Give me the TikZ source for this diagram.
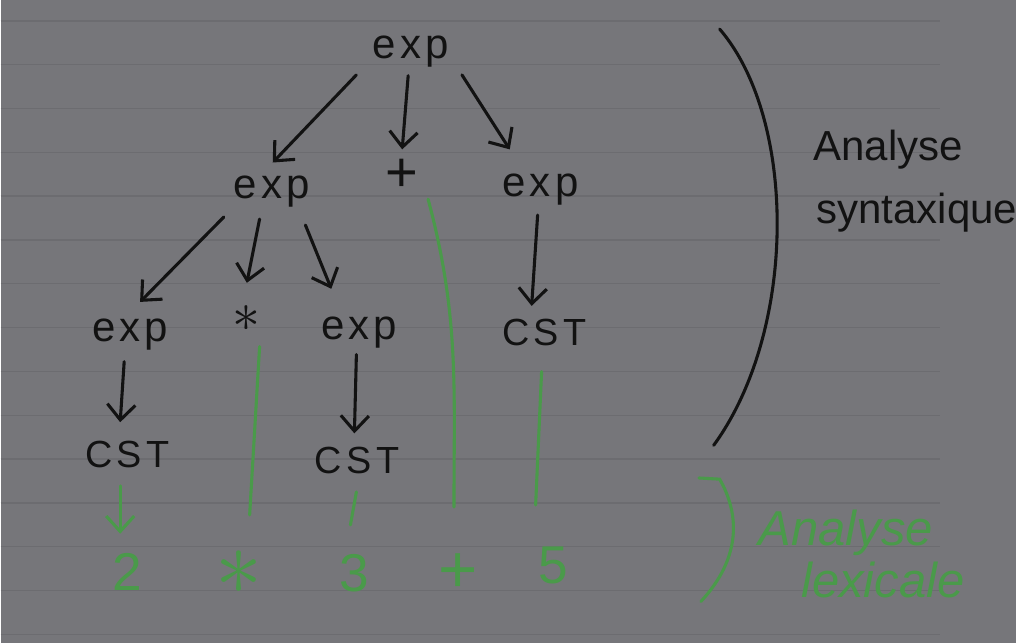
\documentclass[tikz,border=0pt]{standalone}
\usepackage{fontspec}
\setmainfont{Liberation Sans}
\usetikzlibrary{positioning,arrows.meta}

\definecolor{paper}{RGB}{118,118,122}
\definecolor{lined}{RGB}{108,108,112}
\definecolor{ink}{RGB}{18,18,18}
\definecolor{chalk}{RGB}{74,154,74}

\begin{document}
\begin{tikzpicture}[
    >={Straight Barb[length=11pt,width=20pt]},
    every node/.style={font=\fontsize{30}{32}\selectfont, text=ink, inner sep=2pt},
    expr/.style={font=\fontsize{30}{32}\selectfont\addfontfeatures{LetterSpace=10}},
    cst/.style={font=\fontsize{27}{29}\selectfont\addfontfeatures{LetterSpace=12}},
    tok/.style={font=\fontsize{38}{40}\selectfont, text=chalk},
    syn/.style={draw=ink, line width=2.2pt, line cap=round, ->},
    lex/.style={draw=chalk, line width=2.2pt, line cap=round}
]

% paper
\fill[paper] (0,0) rectangle (25.5,-16.15);
\foreach \k in {0,...,14}
    \draw[lined, line width=1pt] (0,-0.525-1.1*\k) -- (23.575,-0.525-1.1*\k);

% syntax tree
\node[expr] (top) at (10.3,-1.3) {exp};

\node[expr] (e2a) at (6.8,-4.82) {exp};
\node[font=\fontsize{40}{42}\selectfont] (p2) at (10.08,-4.4) {+};
\node[expr] (e2b) at (13.55,-4.77) {exp};

\node[expr] (e3a) at (3.25,-8.4) {exp};
\node (m3) at (6.18,-8.0) {\scalebox{1.6}{$\ast$}};
\node[expr] (e3b) at (9.0,-8.35) {exp};
\node[cst] (c3) at (13.65,-8.35) {CST};

\node[cst] (c4a) at (3.18,-11.4) {CST};
\node[cst] (c4b) at (8.95,-11.55) {CST};

% tokens
\node[tok] (t2) at (3.18,-14.35) {2};
\node[tok] (tm) at (5.98,-14.38) {\scalebox{2.7}{$\ast$}};
\node[tok] (t3) at (8.88,-14.38) {3};
\node[tok, font=\fontsize{48}{50}\selectfont] (tp) at (11.48,-14.38) {+};
\node[tok] (t5) at (13.88,-14.2) {5};

\draw[syn] ([shift={(-1.37,-0.58)}]top.center) -- ([shift={(0.03,0.74)}]e2a.center);
\draw[syn] ([shift={(-0.07,-0.6)}]top.center) -- ([shift={(0,0.65)}]p2.center);
\draw[syn] ([shift={(1.28,-0.58)}]top.center) -- ([shift={(-0.77,1.02)}]e2b.center);

\draw[syn] ([shift={(-1.2,-0.63)}]e2a.center) -- ([shift={(0.25,0.82)}]e3a.center);
\draw[syn] ([shift={(-0.3,-0.68)}]e2a.center) -- ([shift={(0,0.9)}]m3.center);
\draw[syn] ([shift={(0.85,-0.83)}]e2a.center) -- ([shift={(-0.7,1.1)}]e3b.center);
\draw[syn] ([shift={(-0.07,-0.63)}]e2b.center) -- ([shift={(-0.32,0.67)}]c3.center);

\draw[syn] ([shift={(-0.15,-0.68)}]e3a.center) -- ([shift={(-0.18,0.8)}]c4a.center);
\draw[syn] ([shift={(-0.07,-0.55)}]e3b.center) -- ([shift={(-0.07,0.67)}]c4b.center);

% lexical links
\draw[lex, ->] ([shift={(-0.18,-0.8)}]c4a.center) -- ([shift={(-0.18,0.95)}]t2.center);
\draw[lex] ([shift={(0.32,-0.7)}]m3.center) -- ([shift={(0.27,1.45)}]tm.center);
\draw[lex] ([shift={(-0.02,-0.8)}]c4b.center) -- ([shift={(-0.1,1.2)}]t3.center);
\draw[lex] ([shift={(0.65,-0.6)}]p2.center) to[out=-75,in=90] ([shift={(-0.1,1.65)}]tp.center);
\draw[lex] ([shift={(-0.07,-0.98)}]c3.center) -- ([shift={(-0.45,1.52)}]t5.center);

% brackets
\draw[ink, line width=2.2pt, line cap=round] (18.05,-0.73) .. controls (20.0,-3.0) and (20.0,-8.3) .. (17.9,-11.18);
\draw[chalk, line width=2.2pt, line cap=round] (17.53,-12.0) -- (18.05,-12.03) .. controls (18.55,-12.9) and (18.6,-14.0) .. (17.58,-15.1);

% labels
\node (syn1) at (22.28,-3.75) {Analyse};
\node (syn2) at (23.0,-5.35) {syntaxique};
\node[text=chalk, font=\fontsize{35}{37}\selectfont\itshape] (lex1) at (21.22,-13.38) {Analyse};
\node[text=chalk, font=\fontsize{35}{37}\selectfont\itshape] (lex2) at (22.15,-14.55) {lexicale};

\end{tikzpicture}
\end{document}
